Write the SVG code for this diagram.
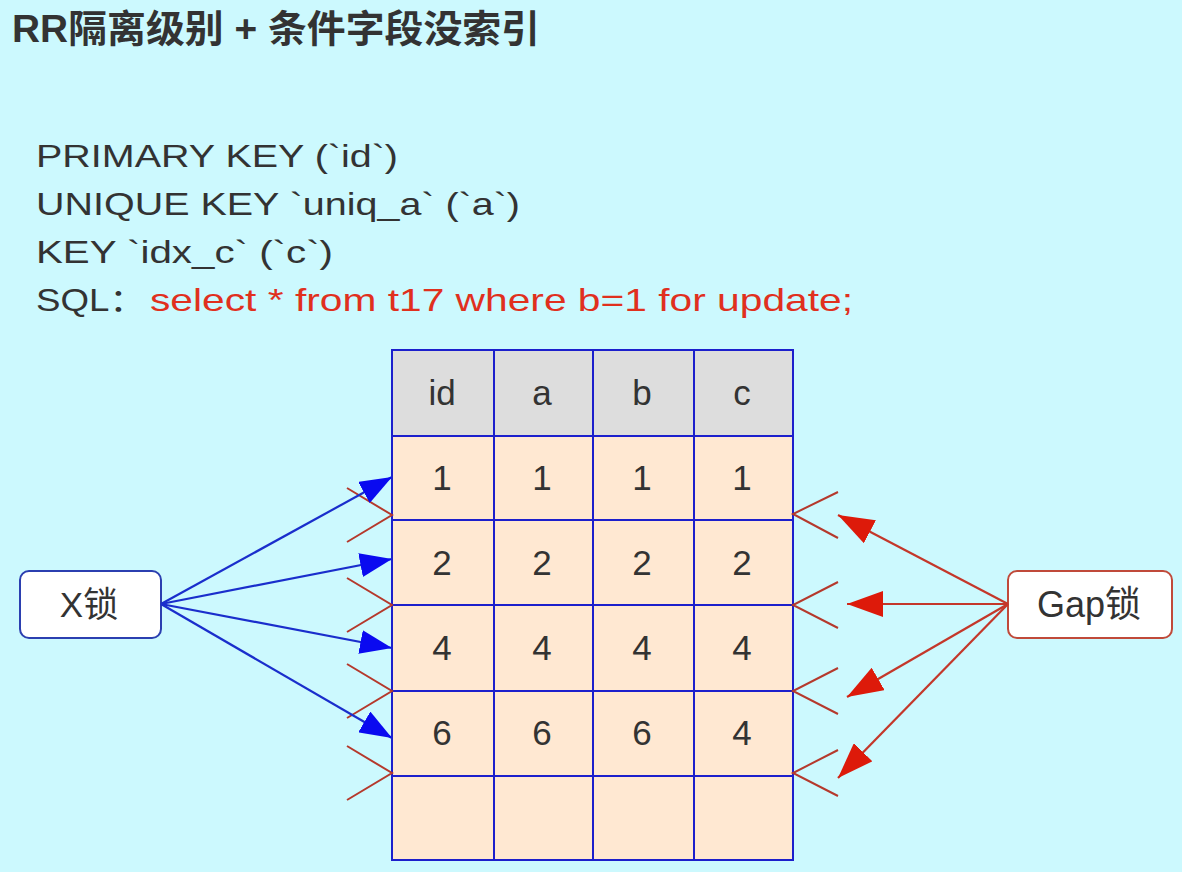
<svg xmlns="http://www.w3.org/2000/svg" width="1182" height="872" viewBox="0 0 1182 872">
<defs>
<style>
.t{font-family:"Liberation Sans","Noto Sans CJK SC",Arial,sans-serif;fill:#333333}
.code{font-size:32px}
.red{fill:#e0301e}
.cell{font-size:35px;text-anchor:middle}
.grid{stroke:#1c1fcc;stroke-width:2;fill:none}
.chev{stroke:#b5392c;stroke-width:2;fill:none}
.xl{stroke:#1a2ecc;stroke-width:2.2;fill:none}
.gl{stroke:#c4372a;stroke-width:2.2;fill:none}
</style>
<marker id="ab" viewBox="0 0 32 24" refX="32" refY="12" markerWidth="32" markerHeight="24" markerUnits="userSpaceOnUse" orient="auto">
<path d="M0,0 L32,12 L0,24 z" fill="#0a0af0"/>
</marker>
<marker id="ar" viewBox="0 0 36 26" refX="36" refY="13" markerWidth="36" markerHeight="26" markerUnits="userSpaceOnUse" orient="auto">
<path d="M0,0 L36,13 L0,26 z" fill="#dd1a0a"/>
</marker>
</defs>
<rect width="1182" height="872" fill="#ccf9fe"/>
<text class="t" x="12" y="42" font-size="38" font-weight="bold" textLength="528" lengthAdjust="spacingAndGlyphs">RR隔离级别 + 条件字段没索引</text>
<g id="schema">
<text class="t code" x="36" y="167" textLength="362" lengthAdjust="spacingAndGlyphs">PRIMARY KEY (`id`)</text>
<text class="t code" x="36" y="215" textLength="484" lengthAdjust="spacingAndGlyphs">UNIQUE KEY `uniq_a` (`a`)</text>
<text class="t code" x="36" y="263" textLength="297" lengthAdjust="spacingAndGlyphs">KEY `idx_c` (`c`)</text>
<text class="t code" x="36" y="311" textLength="110" lengthAdjust="spacingAndGlyphs">SQL：</text>
<text class="t code red" x="150" y="311" textLength="703" lengthAdjust="spacingAndGlyphs">select * from t17 where b=1 for update;</text>
</g>
<g id="table">
<rect x="392" y="350" width="401" height="86" fill="#dddddd"/>
<rect x="392" y="436" width="401" height="424" fill="#ffe8d2"/>
<path class="grid" d="M392,350 H793 V860 H392 Z M494,350 V860 M593,350 V860 M694,350 V860 M392,436 H793 M392,520 H793 M392,605 H793 M392,691 H793 M392,776 H793"/>
<g class="t cell">
<text x="442" y="405">id</text><text x="542" y="405">a</text><text x="642" y="405">b</text><text x="742" y="405">c</text>
<text x="442" y="490">1</text><text x="542" y="490">1</text><text x="642" y="490">1</text><text x="742" y="490">1</text>
<text x="442" y="575">2</text><text x="542" y="575">2</text><text x="642" y="575">2</text><text x="742" y="575">2</text>
<text x="442" y="660">4</text><text x="542" y="660">4</text><text x="642" y="660">4</text><text x="742" y="660">4</text>
<text x="442" y="745">6</text><text x="542" y="745">6</text><text x="642" y="745">6</text><text x="742" y="745">4</text>
</g>
</g>
<g id="gap-marks">
<path class="chev" d="M347,488 L392,515 L347,542 M347,578 L392,605 L347,632 M347,664 L392,691 L347,718 M347,746 L392,773 L347,800"/>
<path class="chev" d="M838,492 L793,514 L838,538 M838,582 L793,605 L838,628 M838,668 L793,691 L838,714 M838,750 L793,773 L838,796"/>
</g>
<g id="xlock">
<rect x="20" y="571" width="141" height="67" rx="9" fill="#ffffff" stroke="#2b3fb0" stroke-width="2"/>
<text class="t" x="89" y="617" font-size="35" text-anchor="middle" fill="#111">X锁</text>
</g>
<g id="gaplock">
<rect x="1008" y="571" width="164" height="67" rx="9" fill="#ffffff" stroke="#c04a3a" stroke-width="2"/>
<text class="t" x="1089" y="617" font-size="36" text-anchor="middle" fill="#111">Gap锁</text>
</g>
<g id="connectors">
<line class="xl" x1="161" y1="604" x2="392" y2="477" marker-end="url(#ab)"/>
<line class="xl" x1="161" y1="604" x2="392" y2="559" marker-end="url(#ab)"/>
<line class="xl" x1="161" y1="604" x2="392" y2="648" marker-end="url(#ab)"/>
<line class="xl" x1="161" y1="604" x2="392" y2="738" marker-end="url(#ab)"/>
<line class="gl" x1="1008" y1="604" x2="838" y2="515" marker-end="url(#ar)"/>
<line class="gl" x1="1008" y1="604" x2="847" y2="604" marker-end="url(#ar)"/>
<line class="gl" x1="1008" y1="604" x2="847" y2="697" marker-end="url(#ar)"/>
<line class="gl" x1="1008" y1="604" x2="838" y2="778" marker-end="url(#ar)"/>
</g>
</svg>
